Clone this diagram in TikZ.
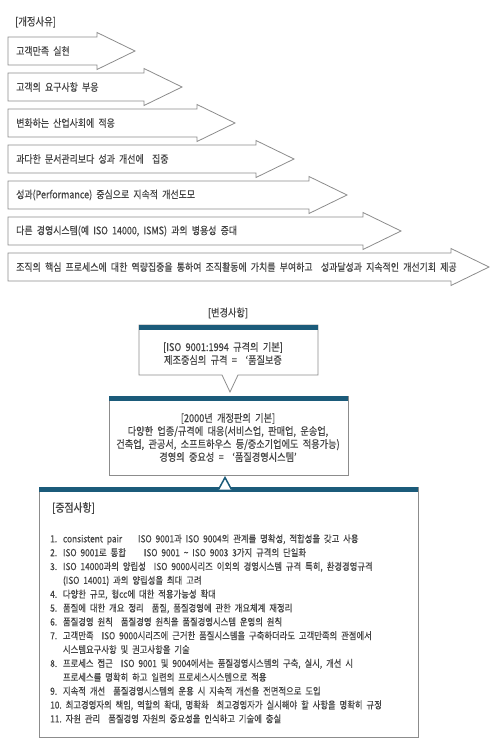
\documentclass[tikz,border=0pt]{standalone}
\usepackage{fontspec}
\setmainfont{Noto Sans CJK KR}[FakeStretch=0.85, WordSpace=2.1, FakeBold=0.4]
\usepackage{tikz}
\usetikzlibrary{positioning}
\usetikzlibrary{calc}

\definecolor{bartitle}{HTML}{1B5B7A}
\definecolor{textgray}{HTML}{444444}
\definecolor{linegray}{HTML}{8C8C8C}

\newcommand{\listno}[1]{\makebox[12.8pt][l]{#1}}

\begin{document}
\begin{tikzpicture}[x=1pt,y=-1pt]
  \useasboundingbox (0,0) rectangle (492,754);

  \def\rowgap{36}
  \def\headlen{38}
  \tikzset{label common/.style={text=textgray, font=\fontsize{10.5}{13}\selectfont, inner sep=0pt}}
  \tikzset{reason node/.style={label common, anchor=west}}
  \tikzset{title node/.style={label common, anchor=center, align=center, font=\fontsize{10.8}{13}\selectfont}}
  \tikzset{box line/.style={draw=linegray, line width=0.8pt, fill=white}}
  \tikzset{box bar/.style={fill=bartitle, draw=none}}

  \coordinate (origin) at (8, 37);

  \node[reason node, font=\fontsize{11}{13}\selectfont] (reasons) at (15, 22) {[개정사유]};

  % reason arrows
  \foreach \i/\hx/\txt in {0/97/{고객만족 실현},
                           1/144/{고객의 요구사항 부응},
                           2/197/{변화하는 산업사회에 적응},
                           3/256/{과다한 문서관리보다 성과 개선에 ~집중},
                           4/309/{성과(Performance) 중심으로 지속적 개선도모},
                           5/363/{다른 경영시스템(예 ISO 14000, ISMS) 과의 병용성 증대},
                           6/451/{조직의 핵심 프로세스에 대한 역량집중을 통하여 조직활동에 가치를 부여하고 ~성과달성과 지속적인 개선기회 제공}} {
    \pgfmathsetmacro\yt{37+\i*\rowgap}
    \draw[box line] (8,\yt) -- (\hx,\yt) -- (\hx,\yt-4.5) -- (\hx+\headlen,\yt+14)
      -- (\hx,\yt+32.5) -- (\hx,\yt+28) -- (8,\yt+28) -- cycle;
    \node[reason node] (r\i) at (16,\yt+14) {\txt};
  }

  % changes
  \node[title node] (changes) at (228, 313) {[변경사항]};

  \draw[box line] (139,325) -- (318,325) -- (318,375) -- (238,375) -- (230,392)
    -- (222,375) -- (139,375) -- cycle;
  \fill[box bar] (139,325) rectangle (318,330);
  \node[title node] (oldbase) at (223,353.5)
    {[ISO 9001:1994 규격의 기본]\\제조중심의 규격 = ~‘품질보증};

  \draw[box line] (109,396) rectangle (348,475);
  \fill[box bar] (109,396) rectangle (348,401);
  \node[title node] (newbase) at (228,437.5)
    {[2000년 개정판의 기본]\\
     다양한 업종/규격에 대응(서비스업, 판매업, 운송업,\\
     건축업, 관공서, 소프트하우스 등/중소기업에도 적용가능)\\
     경영의 중요성 = ~‘품질경영시스템’};

  % key points
  \draw[box line] (39,487) rectangle (418,737);
  \fill[box bar] (39,487) rectangle (418,492);
  \draw[draw=bartitle, line width=1.5pt, fill=white] (218.5,489.5) -- (225,477.5) -- (231.5,489.5);

  \node[reason node, font=\fontsize{11.5}{13}\selectfont] (keys) at (52,508) {[중점사항]};

  \node[label common, anchor=north west, align=left, font=\fontsize{9.8}{13.85}\selectfont] (keylist) at (50,534) {%
    \listno{1.}consistent pair\hspace{16pt}ISO 9001과 ISO 9004의 관계를 명확성, 적합성을 갖고 사용\\
    \listno{2.}ISO 9001로 통합\hspace{18pt}ISO 9001 \textasciitilde{} ISO 9003 3가지 규격의 단일화\\
    \listno{3.}ISO 14000과의 양립성\hspace{8pt}ISO 9000시리즈 이외의 경영시스템 규격 특히, 환경경영규격\\
    \hspace*{12.8pt}(ISO 14001) 과의 양립성을 최대 고려\\
    \listno{4.}다양한 규모, 형cc에 대한 적용가능성 확대\\
    \listno{5.}품질에 대한 개요 정리\hspace{8pt}품질, 품질경영에 관한 개요체계 재정리\\
    \listno{6.}품질경영 원칙\hspace{8pt}품질경영 원칙을 품질경영시스템 운영의 원칙\\
    \listno{7.}고객만족\hspace{8pt}ISO 9000시리즈에 근거한 품질시스템을 구축하더라도 고객만족의 관점에서\\
    \hspace*{12.8pt}시스템요구사항 및 권고사항을 기술\\
    \listno{8.}프로세스 접근\hspace{8pt}ISO 9001 및 9004에서는 품질경영시스템의 구축, 실시, 개선 시\\
    \hspace*{12.8pt}프로세스를 명확히 하고 일련의 프로세스시스템으로 적용\\
    \listno{9.}지속적 개선\hspace{8pt}품질경영시스템의 운용 시 지속적 개선을 전면적으로 도입\\
    10.~최고경영자의 책임, 역할의 확대, 명확화\hspace{8pt}최고경영자가 실시해야 할 사항을 명확히 규정\\
    11.~자원 관리\hspace{8pt}품질경영 자원의 중요성을 인식하고 기술에 충실};
\end{tikzpicture}
\end{document}
